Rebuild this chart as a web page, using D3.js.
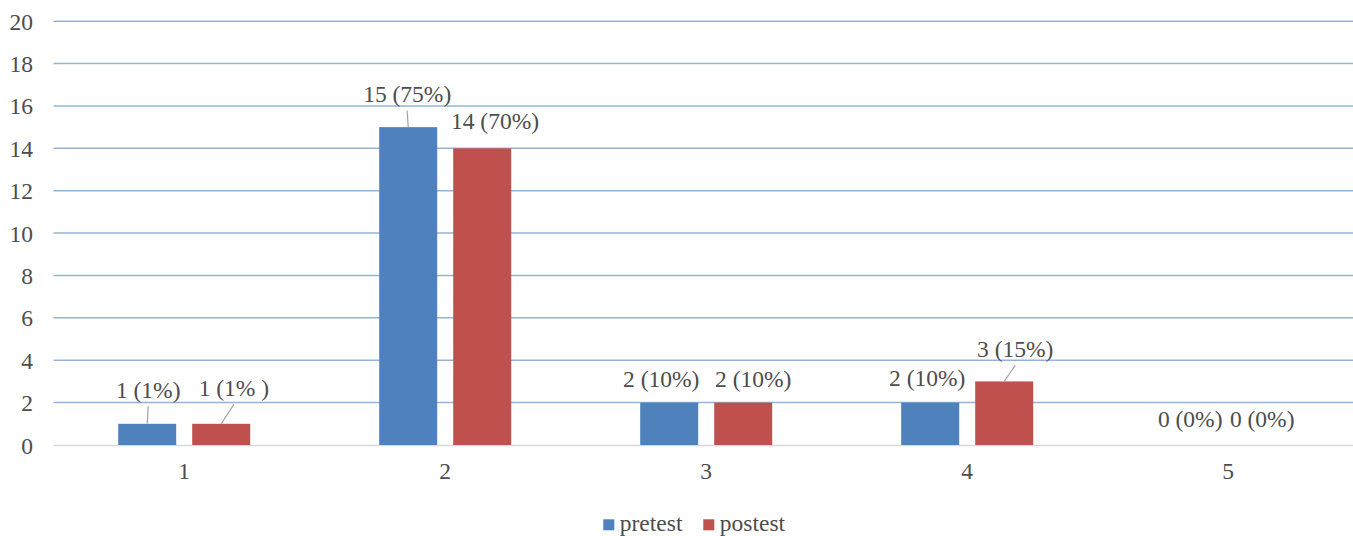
<!DOCTYPE html>
<html>
<head>
<meta charset="utf-8">
<script src="https://cdn.jsdelivr.net/npm/d3@7/dist/d3.min.js"></script>
<style>
  html, body { margin: 0; padding: 0; background: #fff; }
  svg text { font-family: "Liberation Serif", "Times New Roman", serif; fill: #4d4d4d; }
</style>
</head>
<body>
<svg id="chart" width="1353" height="536"></svg>
<script>
// Score categories and counts per test
const categories = ["1", "2", "3", "4", "5"];
const seriesNames = ["pretest", "postest"];
const pretest = [1, 15, 2, 2, 0];
const postest = [1, 14, 2, 3, 0];
const pretestLabels = ["1 (1%)", "15 (75%)", "2 (10%)", "2 (10%)", "0 (0%)"];
const postestLabels = ["1 (1% )", "14 (70%)", "2 (10%)", "3 (15%)", "0 (0%)"];
const yTicks = [0, 2, 4, 6, 8, 10, 12, 14, 16, 18, 20];

const colors = { pretest: "#4f81bd", postest: "#c0504d" };

// Label placement relative to the bar centre / bar top: [dx, dy, leader]
const labelLayout = {
  pretest: [[1, -26, true], [-1, -25, true], [-8, -15.5, false], [-3, -17, false], [-1, -18, false]],
  postest: [[12.7, -28, true], [12.8, -19, false], [10, -15.5, false], [11, -24.5, true], [-3, -18, false]]
};

const svg = d3.select("#chart");
const W = 1353;
const FONT = '"Liberation Serif", "Times New Roman", serif';

const x0 = d3.scaleBand().domain(categories).range([53.7, 1358.7]).paddingInner(0).paddingOuter(0);
const y = d3.scaleLinear().domain([0, 20]).range([445, 21.2]);
const barW = 58, gap = 16;
const x1 = d3.scaleOrdinal().domain(seriesNames)
  .range([-(gap / 2 + barW), gap / 2]);

// Gridlines
svg.append("g").selectAll("line").data(yTicks.filter(d => d > 0)).join("line")
  .attr("x1", 53.5).attr("x2", W)
  .attr("y1", d => y(d)).attr("y2", d => y(d))
  .attr("stroke", "#95b3d7").attr("stroke-width", 1.5);

// Baseline
svg.append("line")
  .attr("x1", 53.5).attr("x2", W).attr("y1", y(0) + 0.5).attr("y2", y(0) + 0.5)
  .attr("stroke", "#d9d9d9").attr("stroke-width", 1.5);

// Y axis labels
const yAxis = d3.axisLeft(y).tickValues(yTicks).tickSize(0).tickPadding(0);
const gy = svg.append("g").attr("transform", "translate(33,0)").call(yAxis);
gy.attr("font-family", FONT);
gy.select(".domain").remove();
gy.selectAll("text").attr("font-size", "23.5px").attr("dy", "0.34em");

// X axis labels
const xAxis = d3.axisBottom(x0).tickSize(0).tickPadding(0);
const gx = svg.append("g").attr("transform", "translate(0,462)").call(xAxis);
gx.attr("font-family", FONT);
gx.select(".domain").remove();
gx.selectAll("text").attr("font-size", "23.5px").attr("dy", "0.74em");

const series = { pretest, postest };
const labels = { pretest: pretestLabels, postest: postestLabels };

seriesNames.forEach(name => {
  const vals = series[name];
  const data = categories.map((c, i) => ({ c, i, v: vals[i] }));
  const cx = d => x0(d.c) + x0.bandwidth() / 2 + x1(name);

  // Bars
  svg.append("g").selectAll("rect").data(data.filter(d => d.v > 0)).join("rect")
    .attr("x", cx)
    .attr("y", d => y(d.v))
    .attr("width", barW)
    .attr("height", d => y(0) - y(d.v))
    .attr("fill", colors[name]);

  // Value labels with leader lines
  const g = svg.append("g");
  data.forEach(d => {
    const [dx, dy, leader] = labelLayout[name][d.i];
    const bx = cx(d) + barW / 2;
    const by = y(d.v);
    const tx = bx + dx, ty = by + dy;
    if (leader) {
      g.append("line")
        .attr("x1", tx).attr("y1", ty + 8.5)
        .attr("x2", bx).attr("y2", by)
        .attr("stroke", "#a6a6a6").attr("stroke-width", 1.2);
    }
    g.append("text")
      .attr("x", tx).attr("y", ty)
      .attr("text-anchor", "middle")
      .attr("font-size", "23.5px")
      .text(labels[name][d.i]);
  });
});

// Legend
const legend = svg.append("g");
const legendX = [603.3, 703.3];
seriesNames.forEach((name, i) => {
  legend.append("rect")
    .attr("x", legendX[i]).attr("y", 519.3).attr("width", 11).attr("height", 11)
    .attr("fill", colors[name]);
  legend.append("text")
    .attr("x", legendX[i] + 16.5).attr("y", 531)
    .attr("font-size", "23.5px")
    .text(name);
});
</script>
</body>
</html>
